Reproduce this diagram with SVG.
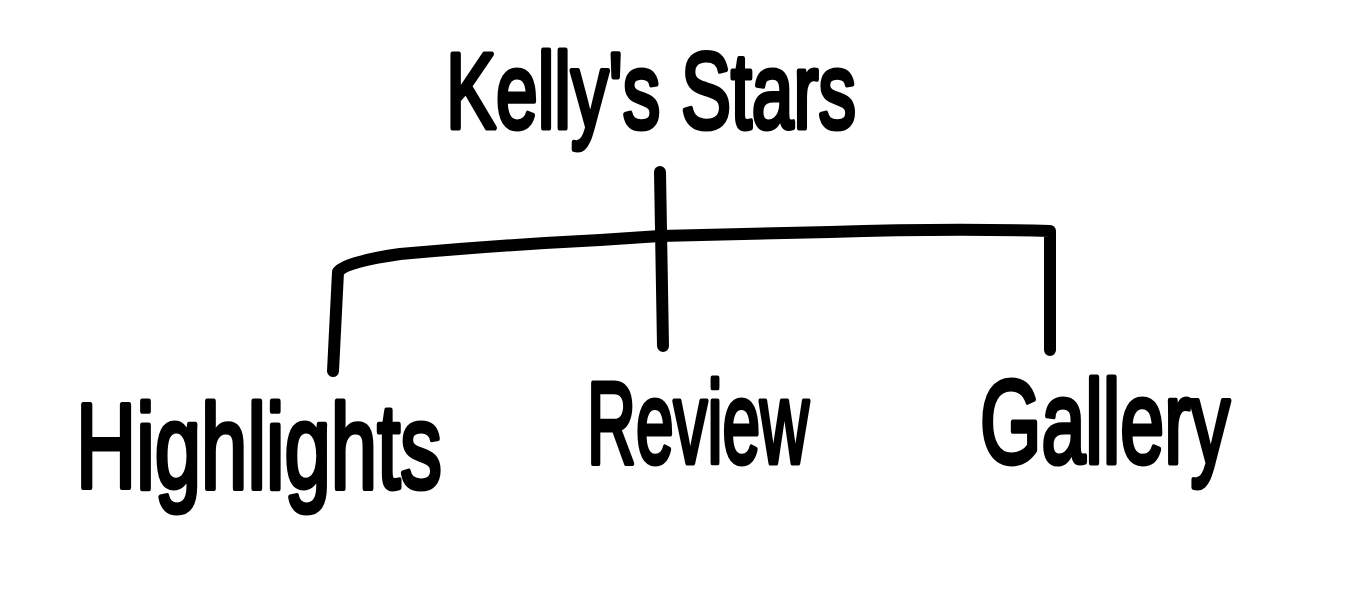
<svg xmlns="http://www.w3.org/2000/svg" width="1365" height="593" viewBox="0 0 1365 593">
<style>
.t{font-family:"Liberation Sans",Arial,sans-serif;font-weight:normal;fill:#000;stroke:#000;stroke-width:5;stroke-linejoin:round}
.c{fill:none;stroke:#000;stroke-width:12;stroke-linecap:round;stroke-linejoin:round}
</style>
<rect width="1365" height="593" fill="#fff"/>
<g id="connectors">
<path class="c" d="M660,172 L663,346"/>
<path class="c" d="M333,371 L338,272 Q345,262 400,254 Q500,245 600,240 L660,236 L830,232 Q950,228 1050,231 L1050,350"/>
</g>
<g id="node-root"><text class="t" x="446" y="128" font-size="108" textLength="410" lengthAdjust="spacingAndGlyphs">Kelly's Stars</text></g>
<g id="node-highlights"><text class="t" x="76" y="488" font-size="120" textLength="366" lengthAdjust="spacingAndGlyphs">Highlights</text></g>
<g id="node-review"><text class="t" x="587" y="463" font-size="116" textLength="222" lengthAdjust="spacingAndGlyphs">Review</text></g>
<g id="node-gallery"><text class="t" x="980" y="463" font-size="118" textLength="250" lengthAdjust="spacingAndGlyphs">Gallery</text></g>
</svg>
